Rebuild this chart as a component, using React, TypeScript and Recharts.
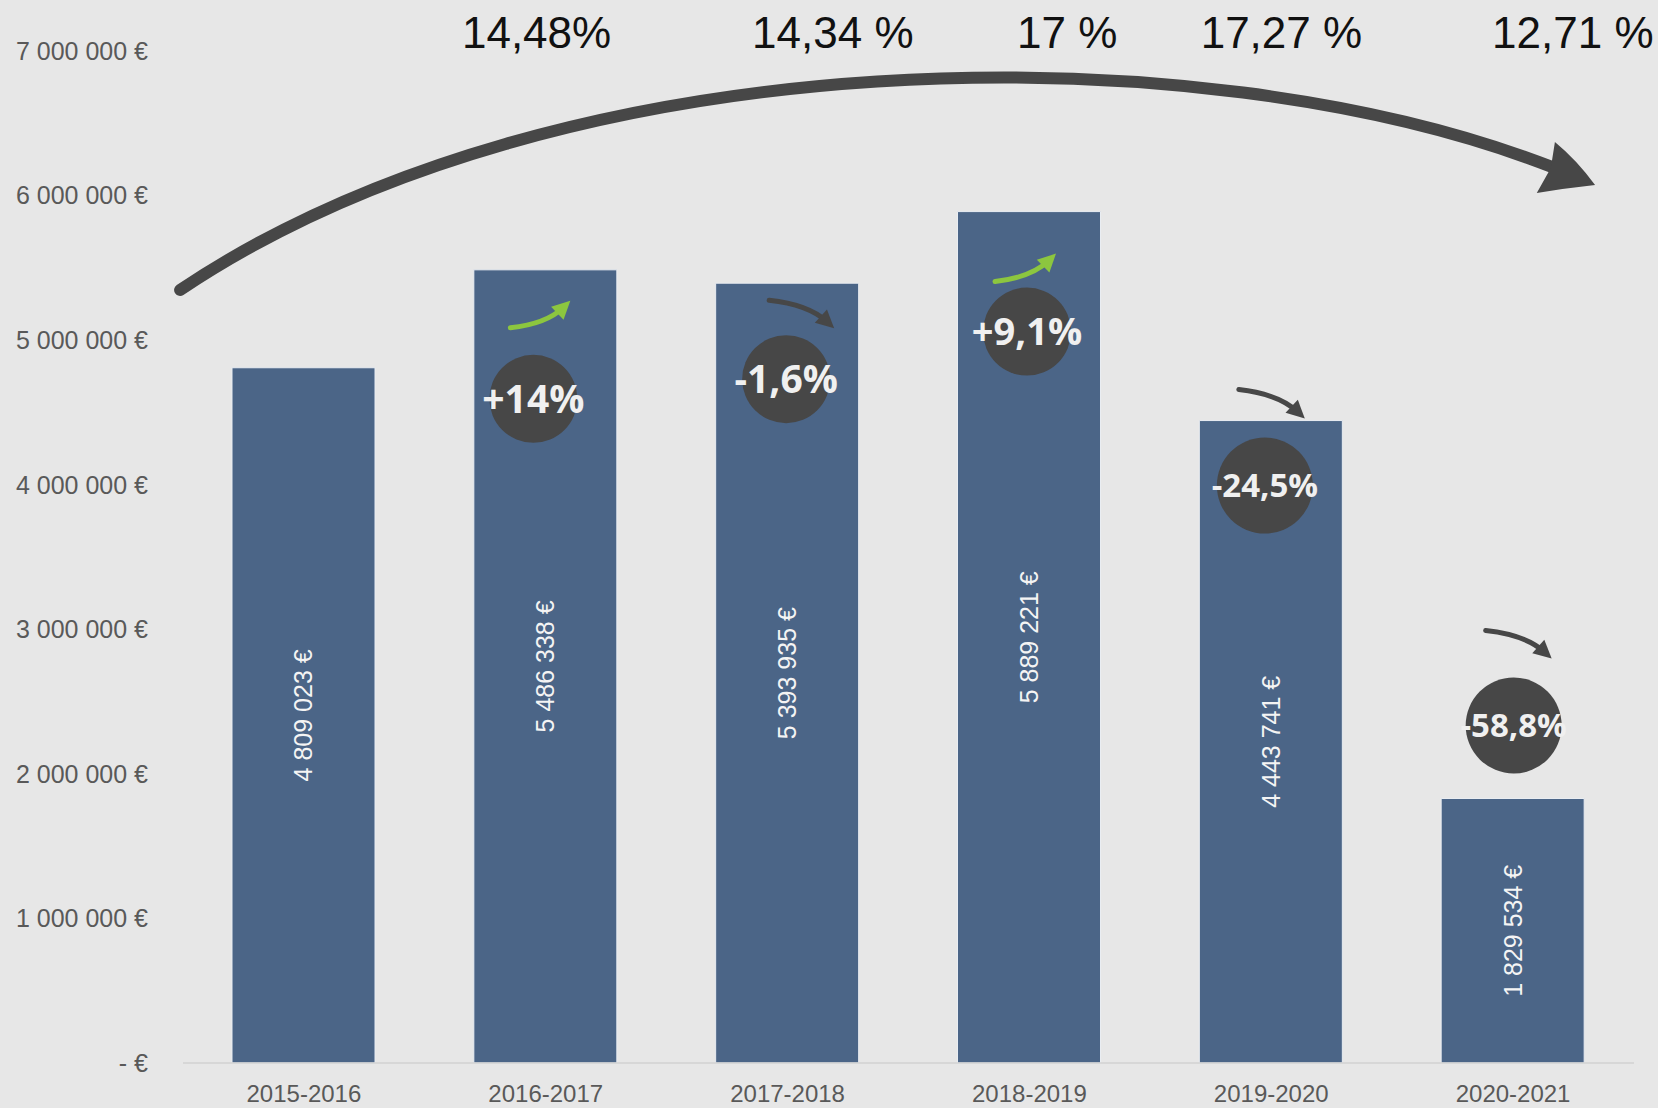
import React from 'react';
import { BarChart, Bar, XAxis, YAxis, LabelList, ReferenceArea } from 'recharts';

const seasons = ['2015-2016', '2016-2017', '2017-2018', '2018-2019', '2019-2020', '2020-2021'];
const revenue = [4809023, 5486338, 5393935, 5889221, 4443741, 1829534];
const yearChange = ['', '+14%', '-1,6%', '+9,1%', '-24,5%', '-58,8%'];
const topRates = ['14,48%', '14,34 %', '17 %', '17,27 %', '12,71 %'];
const yTicks = [0, 1000000, 2000000, 3000000, 4000000, 5000000, 6000000, 7000000];

const Y_MAX = 7000000;
const BAR = '#4b6587';
const DARK = '#474747';
const GREEN = '#8cc63f';
const AXIS_FONT = '"Liberation Sans", Arial, sans-serif';

// badge placement per bar (relative to bar top centre), arrow ends relative to badge centre
const badgeLayout = [
  null,
  { dx: -12, dy: 129, r: 44, fs: 39, tail: [-23, -71], tip: [37, -98] },
  { dx: -1, dy: 96, r: 44, fs: 39, tail: [-17, -79], tip: [48, -51] },
  { dx: -2, dy: 120, r: 44, fs: 38, tail: [-32, -50], tip: [29, -78] },
  { dx: -6, dy: 65, r: 48, fs: 33, tail: [-26, -96], tip: [40, -67] },
  { dx: 1, dy: -73, r: 48, fs: 33, tail: [-28, -95], tip: [38, -67] },
];
// x of the top rate labels, in category widths from the left edge of the plot
const topRateSlots = [1.462, 2.687, 3.656, 4.542, 5.747];

const data = seasons.map((season, i) => ({ season, revenue: revenue[i], change: yearChange[i] }));

const euros = (n: number) => (n === 0 ? '- €' : String(n).replace(/\B(?=(\d{3})+(?!\d))/g, ' ') + ' €');

const SmallArrow = ({ x1, y1, x2, y2, color }: any) => {
  const dx = x2 - x1;
  const dy = y2 - y1;
  const cx = x1 + 0.6 * dx;
  const cy = y1 + 0.15 * dy;
  const len = Math.hypot(x2 - cx, y2 - cy);
  const ux = (x2 - cx) / len;
  const uy = (y2 - cy) / len;
  const hl = 18;
  const hw = 9;
  const bx = x2 - ux * hl;
  const by = y2 - uy * hl;
  const sx = x2 - ux * 10;
  const sy = y2 - uy * 10;
  return (
    <g>
      <path d={`M${x1},${y1} Q${cx},${cy} ${sx},${sy}`} stroke={color} strokeWidth={5} fill="none" strokeLinecap="round" />
      <polygon points={`${x2},${y2} ${bx - uy * hw},${by + ux * hw} ${bx + uy * hw},${by - ux * hw}`} fill={color} />
    </g>
  );
};

const Badge = (props: any) => {
  const { x, y, width, value } = props;
  const i = seasons.indexOf(value);
  const lay = badgeLayout[i];
  if (!lay) return null;
  const label = yearChange[i];
  const cx = x + width / 2 + lay.dx;
  const cy = y + lay.dy;
  const color = label.startsWith('+') ? GREEN : DARK;
  return (
    <g>
      <SmallArrow x1={cx + lay.tail[0]} y1={cy + lay.tail[1]} x2={cx + lay.tip[0]} y2={cy + lay.tip[1]} color={color} />
      <circle cx={cx} cy={cy} r={lay.r} fill={DARK} />
      <text x={cx} y={cy} dy="0.36em" textAnchor="middle" fill="#f0f0f0" fontSize={lay.fs} fontWeight={700}
        fontFamily='"Open Sans", Lato, sans-serif'>
        {label}
      </text>
    </g>
  );
};

const ValueLabel = (props: any) => {
  const { x, y, width, height, value } = props;
  const cx = x + width / 2;
  const cy = y + height / 2;
  return (
    <text x={cx} y={cy} dy="0.36em" textAnchor="middle" fill="#f4f4f4" fontSize={25} fontFamily={AXIS_FONT}
      transform={`rotate(-90 ${cx} ${cy})`}>
      {euros(value)}
    </text>
  );
};

const Overlay = (props: any) => {
  const { x, y, width, height } = props;
  const band = width / seasons.length;
  const px = (b: number) => x + b * band;
  const py = (m: number) => y + height * (1 - (m * 1000000) / Y_MAX);
  const arc = `M${px(-0.012)},${py(5.347)} C${px(1.561)},${py(7.111)} ${px(4.211)},${py(7.145)} ${px(5.66)},${py(6.198)}`;
  const head = `M${px(5.673)},${py(6.371)} Q${px(5.764)},${py(6.246)} ${px(5.839)},${py(6.073)} Q${px(5.723)},${py(6.052)} ${px(5.598)},${py(6.018)} L${px(5.656)},${py(6.191)} Z`;
  return (
    <g>
      <path d={arc} stroke={DARK} strokeWidth={12} fill="none" strokeLinecap="round" />
      <path d={head} fill={DARK} />
      {topRates.map((t, i) => (
        <text key={t} x={px(topRateSlots[i])} y={y - 3} textAnchor="middle" fontSize={44} fill="#111"
          fontFamily='"Liberation Sans", Arial, sans-serif'>
          {t}
        </text>
      ))}
    </g>
  );
};

export default function App() {
  return (
    <div style={{ position: 'absolute', left: 0, top: 0, width: 1658, height: 1108, background: '#e7e7e7' }}>
      <BarChart width={1658} height={1108} data={data} margin={{ top: 51, right: 24, bottom: 0, left: 0 }}>
        <XAxis dataKey="season" interval={0} tickLine={false} tickSize={0} tickMargin={22} height={45}
          axisLine={{ stroke: '#d2d2d2', strokeWidth: 1.5 }}
          tick={{ fill: '#595959', fontSize: 24, fontFamily: AXIS_FONT }} />
        <YAxis domain={[0, Y_MAX]} ticks={yTicks} tickFormatter={euros} width={183} axisLine={false}
          tickLine={false} tickSize={0} tickMargin={35}
          tick={{ fill: '#595959', fontSize: 25, fontFamily: AXIS_FONT }} />
        <ReferenceArea x1={seasons[0]} x2={seasons[seasons.length - 1]} y1={0} y2={Y_MAX}
          shape={(p: any) => <Overlay {...p} />} />
        <Bar dataKey="revenue" fill={BAR} barSize={143} stroke="#e9edf2" strokeWidth={1} isAnimationActive={false}>
          <LabelList dataKey="revenue" content={<ValueLabel />} />
          <LabelList dataKey="season" content={<Badge />} />
        </Bar>
      </BarChart>
    </div>
  );
}
